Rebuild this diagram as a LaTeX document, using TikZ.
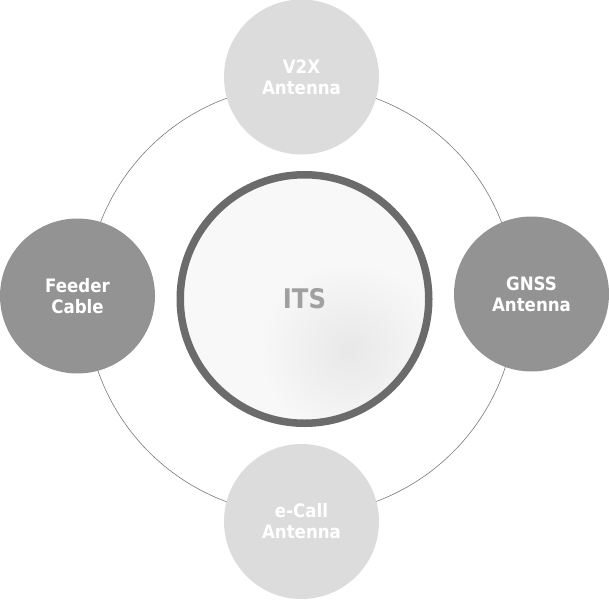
\documentclass[tikz,border=0pt]{standalone}
\usepackage{fontspec}
\newfontfamily\labelfont{DejaVu Sans}[FakeStretch=0.9]
\usepackage{tikz}
\usetikzlibrary{calc,backgrounds}
\definecolor{lightpart}{HTML}{DCDCDC}
\definecolor{darkpart}{HTML}{939393}
\definecolor{itsrim}{HTML}{6B6B6B}
\definecolor{itsbase}{HTML}{F8F8F8}
\definecolor{itsspot}{HTML}{E8E8E8}
\definecolor{itstext}{HTML}{A0A0A0}
\definecolor{orbitline}{HTML}{7A7A7A}
\tikzset{
  part/.style={circle,inner sep=0pt,minimum size=155pt,text=white,align=center,
    font=\labelfont\bfseries\fontsize{18.5}{21}\selectfont},
  lightpart/.style={part,fill=lightpart},
  darkpart/.style={part,fill=darkpart},
  core/.style={circle,inner sep=0pt,minimum size=248.5pt,draw=itsrim,line width=7.5pt,
    text=itstext,font=\labelfont\bfseries\fontsize{27}{30}\selectfont,
    path picture={
      \fill[itsbase] (path picture bounding box.south west) rectangle (path picture bounding box.north east);
      \shade[inner color=itsspot,outer color=itsbase]
        ($(path picture bounding box.center)+(45,51)$) circle[radius=90];
    }},
  orbit/.style={draw=orbitline,line width=0.6pt}
}
\begin{document}
\begin{tikzpicture}[x=1pt,y=-1pt]
\useasboundingbox (0,0) rectangle (609,599);
% ring behind the parts
\coordinate (hub) at (301,300);
\draw[orbit] (hub) circle[radius=215];
\node[lightpart] (v2x) at (301.5,77) {V2X\\Antenna};
\node[lightpart] (ecall) at (301.5,521.5) {e-Call\\Antenna};
\node[darkpart] (feeder) at (77.5,296) {Feeder\\Cable};
\node[darkpart] (gnss) at (531.5,294) {GNSS\\Antenna};
\node[core] (its) at (304.5,299) {ITS};
\end{tikzpicture}
\end{document}
